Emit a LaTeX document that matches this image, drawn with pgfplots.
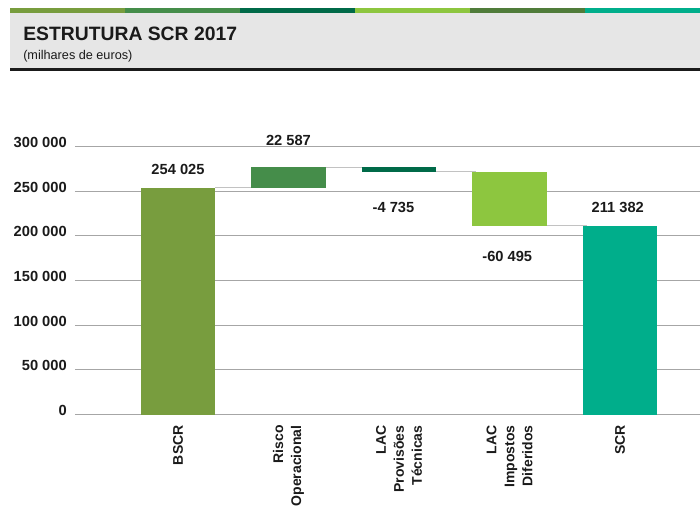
\documentclass[border=0pt]{standalone}
\usepackage{fontspec}
\setmainfont{Liberation Sans}
\usepackage{pgfplots}
\pgfplotsset{compat=1.18}
\definecolor{cBSCR}{HTML}{789D3E}
\definecolor{cRisco}{HTML}{458D4A}
\definecolor{cLACPT}{HTML}{006A48}
\definecolor{cLACID}{HTML}{8DC63F}
\definecolor{cSCR}{HTML}{00AE8B}
\definecolor{sFive}{HTML}{507C3A}
\definecolor{hdrgray}{HTML}{E6E6E6}
\definecolor{gridgray}{HTML}{A6A6A6}
\definecolor{conngray}{HTML}{C2C2C2}
\definecolor{txt}{HTML}{1A1A1A}
\begin{document}
\begin{tikzpicture}
\path[use as bounding box] (0,0) rectangle (525pt,381pt);
% header
\fill[hdrgray] (7.5pt,330pt) rectangle (525pt,371.25pt);
\fill[cBSCR]  (7.5pt,371.25pt)   rectangle (93.75pt,375pt);
\fill[cRisco] (93.75pt,371.25pt) rectangle (180pt,375pt);
\fill[cLACPT] (180pt,371.25pt)   rectangle (266.25pt,375pt);
\fill[cLACID] (266.25pt,371.25pt) rectangle (352.5pt,375pt);
\fill[sFive]  (352.5pt,371.25pt) rectangle (438.75pt,375pt);
\fill[cSCR]   (438.75pt,371.25pt) rectangle (525pt,375pt);
\fill[txt] (7.5pt,327.75pt) rectangle (525pt,330pt);
\node[anchor=base west, inner sep=0pt, text=txt, font=\bfseries\fontsize{14.5}{16}\selectfont] at (17.25pt,350.25pt) {ESTRUTURA SCR 2017};
\node[anchor=base west, inner sep=0pt, text=txt, font=\fontsize{9.5}{11}\selectfont] at (17.25pt,336pt) {(milhares de euros)};
\begin{axis}[
  at={(56.25pt,70.125pt)}, anchor=south west,
  scale only axis, width=468.75pt, height=201pt,
  xmin=-0.932, xmax=4.724, ymin=0, ymax=300000,
  axis line style={draw=none},
  major tick length=0pt,
  scaled y ticks=false,
  ytick={0,50000,100000,150000,200000,250000,300000},
  yticklabels={0,50 000,100 000,150 000,200 000,250 000,300 000},
  yticklabel style={anchor=east, inner sep=0pt, yshift=3pt, text=txt, font=\bfseries\fontsize{11}{13}\selectfont},
  yticklabel shift=6pt,
  xtick={0,1,2,3,4},
  xticklabels={BSCR,{Risco\\Operacional},{LAC\\Provisões\\Técnicas},{LAC\\Impostos\\Diferidos},SCR},
  xticklabel style={rotate=90, anchor=east, align=right, inner sep=0pt, text=txt, font=\bfseries\fontsize{10.5}{13.5}\selectfont},
  xticklabel shift=8pt,
  ymajorgrids,
  grid style={gridgray, line width=0.9pt},
  clip=false,
]
% connectors
\addplot[conngray, line width=1.1pt] coordinates {(0.335,254025) (0.665,254025)};
\addplot[conngray, line width=1.1pt] coordinates {(1.335,276612) (1.665,276612)};
\addplot[conngray, line width=1.1pt] coordinates {(2.335,271877) (2.7,271877)};
\addplot[conngray, line width=1.1pt] coordinates {(3.335,211382) (3.7,211382)};
% bars
\addplot[fill=cBSCR, draw=none] coordinates {(-0.335,0) (0.335,0) (0.335,254025) (-0.335,254025)};
\addplot[fill=cRisco, draw=none] coordinates {(0.665,254025) (1.335,254025) (1.335,276612) (0.665,276612)};
\addplot[fill=cLACPT, draw=none] coordinates {(1.665,276612) (2.335,276612) (2.335,271877) (1.665,271877)};
\addplot[fill=cLACID, draw=none] coordinates {(2.665,271877) (3.335,271877) (3.335,211382) (2.665,211382)};
\addplot[fill=cSCR, draw=none] coordinates {(3.665,0) (4.335,0) (4.335,211382) (3.665,211382)};
% value labels
\node[text=txt, font=\bfseries\fontsize{11}{13}\selectfont, yshift=13.5pt] at (axis cs:0,254025) {254 025};
\node[text=txt, font=\bfseries\fontsize{11}{13}\selectfont, yshift=20pt] at (axis cs:1,276612) {22 587};
\node[text=txt, font=\bfseries\fontsize{11}{13}\selectfont, yshift=-26.6pt] at (axis cs:1.95,271877) {-4 735};
\node[text=txt, font=\bfseries\fontsize{11}{13}\selectfont, yshift=-23.25pt] at (axis cs:2.98,211382) {-60 495};
\node[text=txt, font=\bfseries\fontsize{11}{13}\selectfont, yshift=13.9pt] at (axis cs:3.98,211382) {211 382};
\end{axis}
\end{tikzpicture}
\end{document}
